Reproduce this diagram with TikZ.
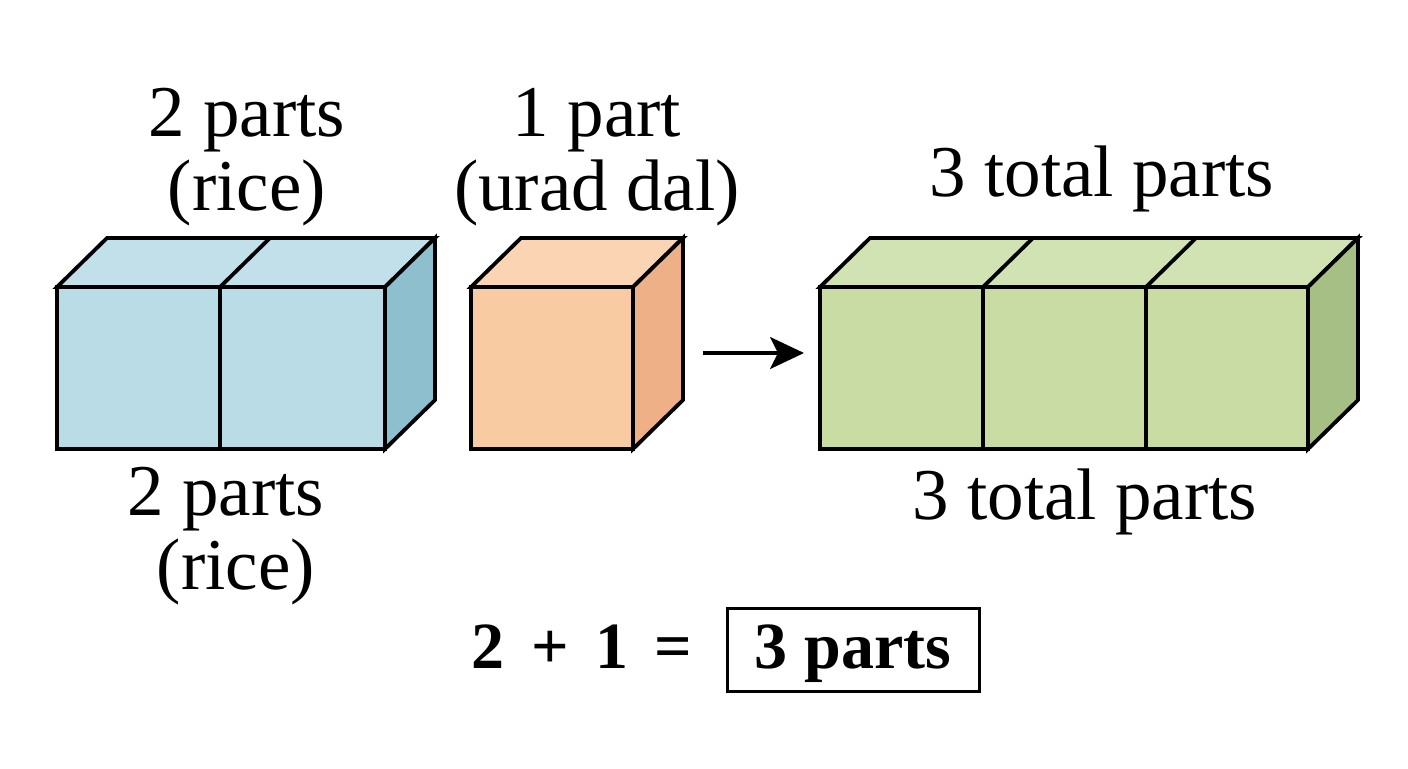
\documentclass[tikz,border=0pt]{standalone}
\usepackage{fontspec}
\setmainfont{Liberation Serif}
\usetikzlibrary{arrows.meta}
\definecolor{bluefront}{HTML}{B9DCE7}
\definecolor{bluetop}{HTML}{C2E0E9}
\definecolor{blueside}{HTML}{8DBFCF}
\definecolor{orafront}{HTML}{F9CBA3}
\definecolor{oratop}{HTML}{FAD4B3}
\definecolor{oraside}{HTML}{EDB087}
\definecolor{grnfront}{HTML}{C8DCA4}
\definecolor{grntop}{HTML}{D1E2B3}
\definecolor{grnside}{HTML}{A6BF85}
\begin{document}
\begin{tikzpicture}[x=0.5pt,y=-0.5pt,
  edge/.style={line width=1.9pt, line join=miter},
  lbl/.style={anchor=base, inner sep=0pt, font=\fontsize{36.5}{40}\selectfont},
  eq/.style={anchor=base, inner sep=0pt, font=\fontsize{33}{38}\selectfont\bfseries}]
\useasboundingbox (0,0) rectangle (1408,768);
\fill[white] (0,0) rectangle (1408,768);

% blue block (2 parts)
\filldraw[edge, fill=bluetop] (57,287) -- (107,238) -- (435,238) -- (385,287) -- cycle;
\filldraw[edge, fill=blueside] (385,287) -- (435,238) -- (435,400) -- (385,449) -- cycle;
\filldraw[edge, fill=bluefront] (57,287) rectangle (385,449);
\draw[edge] (220,287) -- (220,449) (220,287) -- (270,238);

% orange block (1 part)
\filldraw[edge, fill=oratop] (471,287) -- (521,238) -- (683,238) -- (633,287) -- cycle;
\filldraw[edge, fill=oraside] (633,287) -- (683,238) -- (683,400) -- (633,449) -- cycle;
\filldraw[edge, fill=orafront] (471,287) rectangle (633,449);

% green block (3 parts)
\filldraw[edge, fill=grntop] (820,287) -- (870,238) -- (1358,238) -- (1308,287) -- cycle;
\filldraw[edge, fill=grnside] (1308,287) -- (1358,238) -- (1358,400) -- (1308,449) -- cycle;
\filldraw[edge, fill=grnfront] (820,287) rectangle (1308,449);
\draw[edge] (983,287) -- (983,449) (983,287) -- (1033,238)
            (1146,287) -- (1146,449) (1146,287) -- (1196,238);

% arrow
\coordinate (arrS) at (703,353);
\coordinate (arrE) at (804,353);
\draw[line width=1.6pt, -{Stealth[length=17pt,width=16pt,inset=4pt]}] (arrS) -- (arrE);

% labels
\node[lbl] (t1) at (247,136) {2 parts};
\node[lbl] (t2) at (247,210) {(rice)};
\node[lbl] (t3) at (597,136) {1 part};
\node[lbl] (t4) at (597,210) {(urad dal)};
\node[lbl] (t5) at (1102,196) {3 total parts};
\node[lbl] (b1) at (226,515) {2 parts};
\node[lbl] (b2) at (236,589) {(rice)};
\node[lbl] (b3) at (1085,519) {3 total parts};

% equation
\node[eq] (eql) at (582,668) {2\hspace{0.4em}+\hspace{0.4em}1\hspace{0.4em}=};
\draw[line width=1.5pt] (727,608) rectangle (979,691);
\node[eq] (eqr) at (853,668) {3 parts};
\end{tikzpicture}
\end{document}
